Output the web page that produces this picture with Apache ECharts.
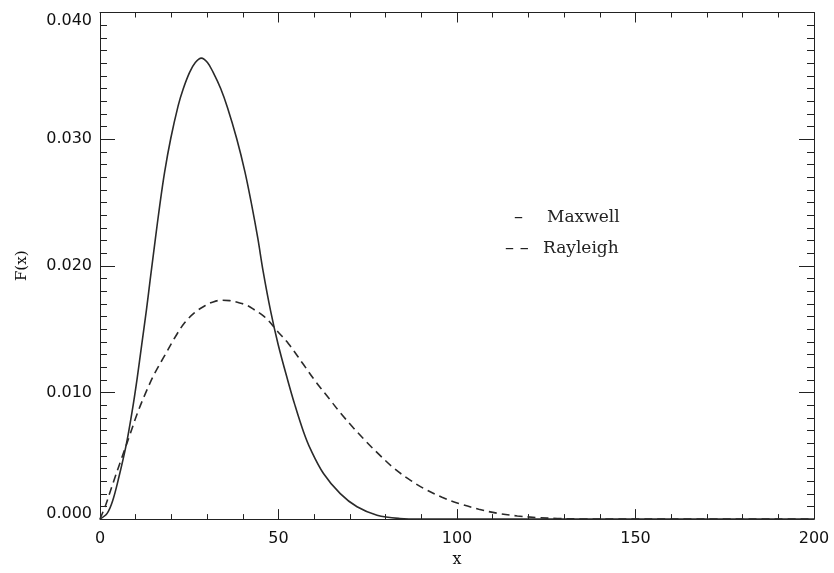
<!DOCTYPE html>
<html>
<head>
<meta charset="utf-8">
<script src="https://cdn.jsdelivr.net/npm/echarts@6/dist/echarts.min.js"></script>
<style>html,body{margin:0;padding:0;background:#fff;}#c{width:834px;height:573px;}</style>
</head>
<body>
<div id="c"></div>
<script>
// Data
var maxwellX = [0, 2, 3.5, 5.3, 7.4, 9.0, 10.4, 11.7, 13.0, 14.1, 15.5, 16.7, 18.1, 19.8, 21.9, 23.3, 25.1, 26.7, 28.4, 30.1, 31.7, 33.8, 35.7, 38.3, 40.6, 42.5, 44.2, 45.7, 47.8, 49.9, 52.6, 54.6, 57.0, 59.0, 62.6, 67.3, 72.0, 77.6, 84.0, 90.0, 120, 160, 200];
var maxwellY = [0, 0.00045, 0.0014, 0.00332, 0.00594, 0.0085, 0.0111, 0.0138, 0.0165, 0.0190, 0.0221, 0.0247, 0.0274, 0.03003, 0.03265, 0.03396, 0.03527, 0.03605, 0.0364, 0.03605, 0.03527, 0.0340, 0.0325, 0.03003, 0.02742, 0.02479, 0.02218, 0.01956, 0.01642, 0.01379, 0.01095, 0.0090, 0.0069, 0.0055, 0.0036, 0.00201, 0.00097, 0.00031, 0.00005, 0, 0, 0, 0];
var rayleighX = [0, 1.7, 3.6, 5.8, 8.3, 10.6, 13.0, 15.3, 18.1, 20.9, 23.7, 26.5, 29.4, 31.7, 34.0, 36.3, 38.7, 41.0, 43.4, 45.5, 47.1, 49.5, 52.8, 57.0, 60.7, 64.5, 67.3, 71.0, 74.8, 78.0, 82.2, 86.5, 90.7, 95.8, 100.5, 106.1, 111.3, 116.9, 122.5, 128.1, 135, 145, 200];
var rayleighY = [0, 0.0012, 0.0028, 0.0046, 0.0066, 0.00845, 0.0101, 0.0115, 0.0129, 0.0143, 0.0155, 0.0163, 0.01685, 0.01715, 0.01728, 0.01725, 0.0171, 0.0169, 0.0165, 0.0161, 0.0157, 0.0149, 0.01385, 0.0122, 0.01075, 0.0094, 0.0084, 0.0072, 0.00605, 0.00515, 0.00405, 0.00315, 0.00242, 0.00172, 0.00123, 0.00078, 0.00046, 0.00025, 0.00012, 0.00005, 0.00001, 0, 0];
var xTicks = [0, 50, 100, 150, 200];
var yTicks = ['0.000', '0.010', '0.020', '0.030', '0.040'];
var seriesNames = ['Maxwell', 'Rayleigh'];

function pairs(xs, ys) { return xs.map(function (x, i) { return [x, ys[i]]; }); }

var chart = echarts.init(document.getElementById('c'), null, {renderer: 'canvas'});
var axisCol = '#222';
var sansFont = 'DejaVu Sans';
var serifFont = 'DejaVu Serif';

function xAxisCfg(pos, showLabel) {
  return {
    type: 'value', position: pos, min: xTicks[0], max: xTicks[xTicks.length - 1], interval: 50,
    axisLine: {show: true, onZero: false, lineStyle: {color: axisCol, width: 1}},
    axisTick: {show: true, inside: true, length: 10, lineStyle: {color: axisCol}},
    minorTick: {show: true, splitNumber: 5, length: 5, lineStyle: {color: axisCol}},
    axisLabel: {show: showLabel, margin: 12, color: '#111', fontFamily: sansFont, fontSize: 16},
    splitLine: {show: false}, minorSplitLine: {show: false},
    name: showLabel ? 'x' : '', nameLocation: 'middle', nameGap: 28,
    nameTextStyle: {fontFamily: serifFont, fontSize: 16, color: '#111'}
  };
}
function yAxisCfg(pos, showLabel) {
  return {
    type: 'value', position: pos, min: 0, max: 0.04, interval: 0.01,
    axisLine: {show: true, onZero: false, lineStyle: {color: axisCol, width: 1}},
    axisTick: {show: true, inside: true, length: 15, lineStyle: {color: axisCol}},
    minorTick: {show: true, splitNumber: 10, length: 7, lineStyle: {color: axisCol}},
    axisLabel: {
      show: showLabel, margin: 8, color: '#111', fontFamily: sansFont, fontSize: 16,
      formatter: function (v) {
        var idx = Math.round(v / 0.01);
        var s = yTicks[idx];
        if (idx === 4) return '{top|' + s + '}';
        if (idx === 0) return '{bot|' + s + '}';
        return s;
      },
      rich: {
        top: {fontFamily: sansFont, fontSize: 16, color: '#111', padding: [16, 0, 0, 0]},
        bot: {fontFamily: sansFont, fontSize: 16, color: '#111', padding: [0, 0, 10, 0]}
      }
    },
    splitLine: {show: false}, minorSplitLine: {show: false},
    name: showLabel ? 'F(x)' : '', nameLocation: 'middle', nameGap: 70, nameRotate: 90,
    nameTextStyle: {fontFamily: serifFont, fontSize: 15, color: '#111'}
  };
}

chart.setOption({
  animation: false,
  backgroundColor: '#fff',
  grid: {left: 100, right: 20, top: 12.5, bottom: 50.7, containLabel: false},
  xAxis: [xAxisCfg('bottom', true), xAxisCfg('top', false)],
  yAxis: [yAxisCfg('left', true), yAxisCfg('right', false)],
  series: [
    {
      name: seriesNames[0], type: 'line', xAxisIndex: 0, yAxisIndex: 0,
      data: pairs(maxwellX, maxwellY), showSymbol: false, smooth: 0.35,
      lineStyle: {color: '#2a2a2a', width: 1.6, type: 'solid'}
    },
    {
      name: seriesNames[1], type: 'line', xAxisIndex: 0, yAxisIndex: 0,
      data: pairs(rayleighX, rayleighY), showSymbol: false, smooth: 0.35,
      lineStyle: {color: '#2a2a2a', width: 1.6, type: [8, 5]}
    }
  ],
  graphic: [
    {type: 'text', left: 514, top: 209, style: {text: '–', font: '18px "DejaVu Serif"', fill: '#222'}},
    {type: 'text', left: 547, top: 209, style: {text: seriesNames[0], font: '17px "DejaVu Serif"', fill: '#222'}},
    {type: 'text', left: 505, top: 240, style: {text: '– –', font: '18px "DejaVu Serif"', fill: '#222'}},
    {type: 'text', left: 543, top: 240, style: {text: seriesNames[1], font: '17px "DejaVu Serif"', fill: '#222'}}
  ]
});
</script>
</body>
</html>
